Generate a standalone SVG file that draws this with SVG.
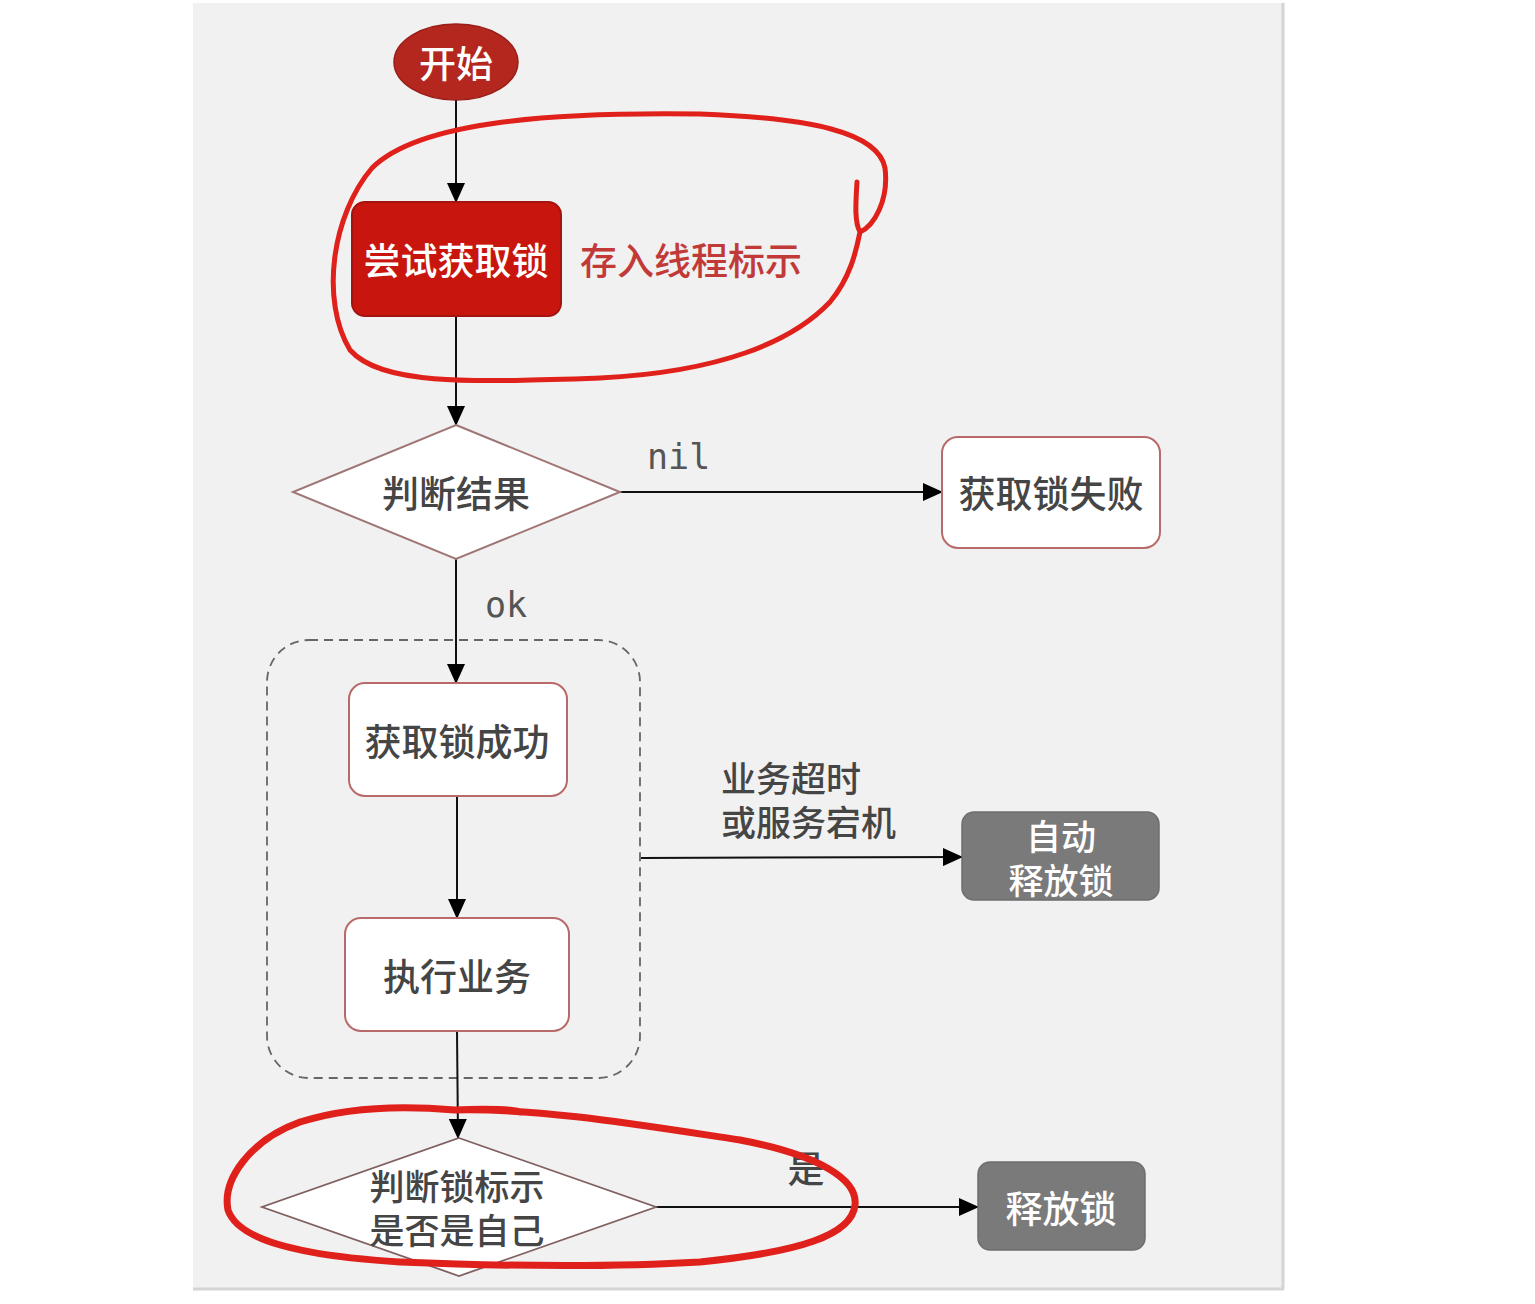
<svg xmlns="http://www.w3.org/2000/svg" width="1535" height="1304" viewBox="0 0 1535 1304">
<style>
.cn{font-family:"Noto Sans CJK SC","Noto Sans",sans-serif;font-size:37px;font-weight:500;text-anchor:middle;dominant-baseline:central}
.cn2{font-size:35px}
.dark{fill:#454545}
.white{fill:#fff}
.box{fill:#fff;stroke:#b86a6a;stroke-width:2}
.gray{fill:#7a7a7a;stroke:#6e6e6e;stroke-width:1.5}
.edge{stroke:#111;stroke-width:2;fill:none}
.mono{font-family:"DejaVu Sans Mono","Liberation Mono",monospace;font-size:35px;fill:#555;dominant-baseline:central}
.ann{fill:none;stroke:#e0211b;stroke-linecap:round;stroke-linejoin:round}
</style>
<defs>
<marker id="arr" viewBox="0 0 20 18" refX="19" refY="9" markerWidth="20" markerHeight="18" orient="auto" markerUnits="userSpaceOnUse">
<path d="M0,0 L20,9 L0,18 z" fill="#000"/>
</marker>
</defs>
<rect x="0" y="0" width="1535" height="1304" fill="#fff"/>
<rect x="193" y="3" width="1090" height="1286" fill="#f1f1f1"/>
<line x1="1283" y1="3" x2="1283" y2="1289" stroke="#d4d4d4" stroke-width="3"/>
<line x1="193" y1="1289" x2="1284" y2="1289" stroke="#d4d4d4" stroke-width="3"/>

<g id="group-box">
<rect x="267" y="640" width="373" height="438" rx="42" fill="none" stroke="#666" stroke-width="1.8" stroke-dasharray="9 6"/>
</g>

<g id="connectors">
<line class="edge" x1="456" y1="100" x2="456" y2="202" marker-end="url(#arr)"/>
<line class="edge" x1="456" y1="316" x2="456" y2="425" marker-end="url(#arr)"/>
<line class="edge" x1="620" y1="492" x2="942" y2="492" marker-end="url(#arr)"/>
<text class="mono" x="647" y="457">nil</text>
<line class="edge" x1="456" y1="559" x2="456" y2="683" marker-end="url(#arr)"/>
<text class="mono" x="485" y="605">ok</text>
<line class="edge" x1="457" y1="796" x2="457" y2="918" marker-end="url(#arr)"/>
<line class="edge" x1="457" y1="1031" x2="458" y2="1138" marker-end="url(#arr)"/>
<line class="edge" x1="641" y1="858" x2="962" y2="857" marker-end="url(#arr)"/>
<text class="cn cn2 dark" x="721" y="776" style="text-anchor:start">业务超时</text>
<text class="cn cn2 dark" x="721" y="820" style="text-anchor:start">或服务宕机</text>
<line class="edge" x1="656" y1="1207" x2="978" y2="1207" marker-end="url(#arr)"/>
<text class="cn dark" x="806" y="1167">是</text>
</g>

<g id="start">
<ellipse cx="456" cy="62" rx="62" ry="38" fill="#b3271f" stroke="#9a1e18" stroke-width="1.5"/>
<text class="cn white" x="456" y="62">开始</text>
</g>

<g id="try-lock">
<rect x="352" y="202" width="209" height="114" rx="13" fill="#c8150d" stroke="#a51310" stroke-width="2"/>
<text class="cn white" x="456" y="259">尝试获取锁</text>
</g>

<g id="store-thread-note">
<text class="cn" x="580" y="259" style="text-anchor:start;fill:#c23a38">存入线程标示</text>
</g>

<g id="judge-result">
<polygon points="456,425 620,492 456,559 293,492" fill="#fff" stroke="#a07575" stroke-width="2"/>
<text class="cn dark" x="456" y="492">判断结果</text>
</g>

<g id="lock-fail">
<rect x="942" y="437" width="218" height="111" rx="16" class="box"/>
<text class="cn dark" x="1051" y="492">获取锁失败</text>
</g>

<g id="lock-success">
<rect x="349" y="683" width="218" height="113" rx="16" class="box"/>
<text class="cn dark" x="457" y="740">获取锁成功</text>
</g>

<g id="do-business">
<rect x="345" y="918" width="224" height="113" rx="16" class="box"/>
<text class="cn dark" x="457" y="975">执行业务</text>
</g>

<g id="auto-release">
<rect x="962" y="812" width="197" height="88" rx="12" class="gray"/>
<text class="cn cn2 white" x="1061" y="834">自动</text>
<text class="cn cn2 white" x="1061" y="878">释放锁</text>
</g>

<g id="judge-owner">
<polygon points="459,1138 656,1207 459,1276 262,1207" fill="#fff" stroke="#806060" stroke-width="1.8"/>
<text class="cn cn2 dark" x="457" y="1184">判断锁标示</text>
<text class="cn cn2 dark" x="457" y="1228">是否是自己</text>
</g>

<g id="release">
<rect x="978" y="1162" width="167" height="88" rx="12" class="gray"/>
<text class="cn white" x="1061" y="1207">释放锁</text>
</g>

<g id="annotations">
<path class="ann" stroke-width="5" d="M857,182 C856,200 854,222 860,232 C874,226 889,200 885,168 C878,132 810,118 700,114 C560,112 420,120 372,168 C332,215 320,300 350,350 C382,386 470,382 600,378 C720,372 792,342 830,302 C850,278 856,252 860,232"/>
<path class="ann" stroke-width="7" d="M455,1110 C540,1108 640,1125 740,1140 C820,1155 858,1180 855,1205 C852,1235 800,1252 700,1262 C600,1268 500,1266 400,1262 C300,1256 238,1240 228,1210 C222,1180 250,1140 300,1122 C350,1106 410,1106 455,1110 C490,1108 515,1110 520,1112"/>
</g>
</svg>
